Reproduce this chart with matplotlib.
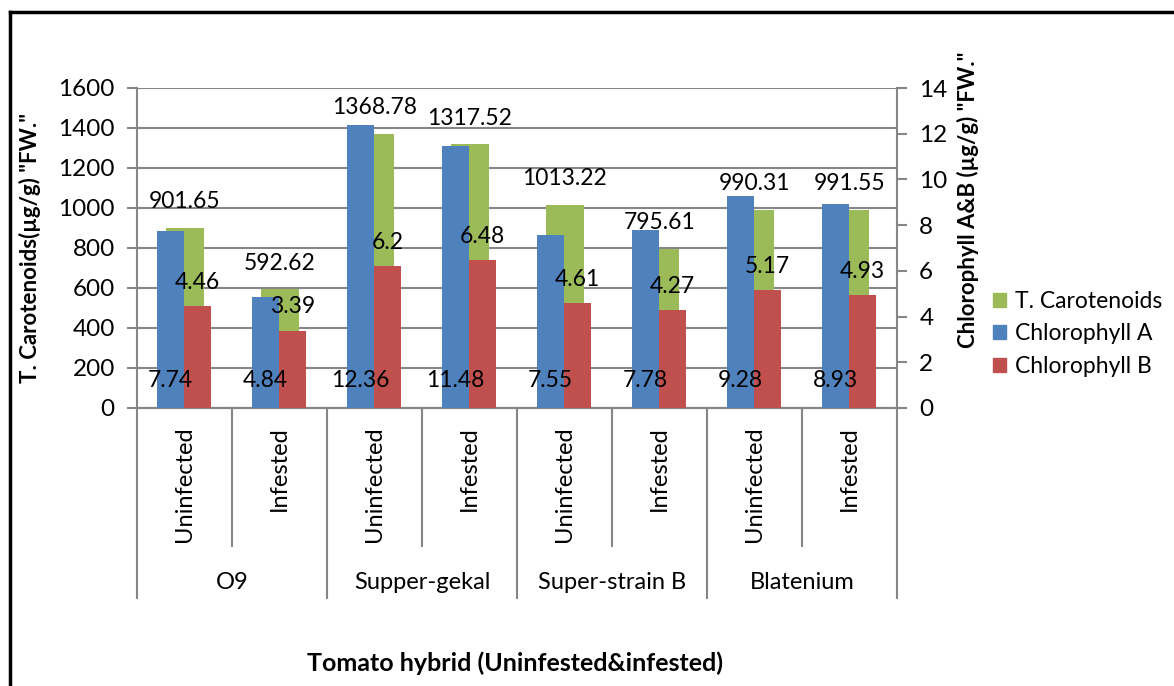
import numpy as np
import matplotlib
matplotlib.use("Agg")
import matplotlib.pyplot as plt
from matplotlib.patches import Patch
from matplotlib.lines import Line2D

plt.rcParams['font.family'] = ['Lato', 'DejaVu Sans']

# data
hybrids = ["O9", "Supper-gekal", "Super-strain B", "Blatenium"]
status = ["Uninfected", "Infested"]
carotenoids = [901.65, 592.62, 1368.78, 1317.52, 1013.22, 795.61, 990.31, 991.55]
chl_a = [7.74, 4.84, 12.36, 11.48, 7.55, 7.78, 9.28, 8.93]
chl_b = [4.46, 3.39, 6.2, 6.48, 4.61, 4.27, 5.17, 4.93]

green = "#9BBB59"
blue = "#4F81BD"
red = "#C0504D"
grey = "#868686"

fig = plt.figure(figsize=(11.74, 6.86), dpi=100)
ax = fig.add_axes([137 / 1174, 278 / 686, 760 / 1174, 320 / 686])
ax2 = ax.twinx()

x = np.arange(len(carotenoids))

# primary axis: carotenoids
ax.bar(x, carotenoids, width=0.4, color=green, zorder=2)
ax.set_ylim(0, 1600)
ax.set_yticks(np.arange(0, 1601, 200))
ax.set_xlim(-0.5, len(x) - 0.5)
ax.yaxis.grid(True, color=grey, linewidth=1.5, zorder=0)
ax.set_axisbelow(True)

# secondary axis: chlorophyll
ax2.bar(x - 0.145, chl_a, width=0.28, color=blue, zorder=3)
ax2.bar(x + 0.135, chl_b, width=0.28, color=red, zorder=3)
ax2.set_ylim(0, 14)
ax2.set_yticks(np.arange(0, 15, 2))

for a in (ax, ax2):
    a.spines["top"].set_visible(False)
    for s in ("left", "right", "bottom"):
        a.spines[s].set_color(grey)
        a.spines[s].set_linewidth(1.5)
    a.set_xticks([])
ax.spines["right"].set_visible(False)
ax2.spines["left"].set_visible(False)

ax.tick_params(axis="y", labelsize=17.5, length=7, width=1.5, color=grey, pad=9)
ax2.tick_params(axis="y", labelsize=17.5, length=7, width=1.5, color=grey, pad=9)

# value labels
for xi, v in zip(x, carotenoids):
    ax.annotate(f"{v:g}", (xi, v), xytext=(0, 19), textcoords="offset points",
                ha="center", va="center", fontsize=16.5, zorder=5)
for xi, v in zip(x, chl_a):
    ax2.annotate(f"{v:g}", (xi - 0.145, 0), xytext=(0, 20), textcoords="offset points",
                 ha="center", va="center", fontsize=16.5, zorder=5)
for xi, v in zip(x, chl_b):
    ax2.annotate(f"{v:g}", (xi + 0.135, v), xytext=(0, 17), textcoords="offset points",
                 ha="center", va="center", fontsize=16.5, zorder=5)

# two-level category axis
trans = ax.get_xaxis_transform()
for i in range(len(x) + 1):
    edge = i - 0.5
    low = -0.594 if i % 2 == 0 else -0.431
    ax.add_line(Line2D([edge, edge], [0, low], transform=trans, color=grey,
                       linewidth=1.5, clip_on=False))
for i, xi in enumerate(x):
    ax.text(xi, -0.058, status[i % 2], transform=trans, rotation=90,
            ha="center", va="top", fontsize=17)
for g, name in enumerate(hybrids):
    ax.text(2 * g + 0.5, -0.544, name, transform=trans, ha="center", va="center",
            fontsize=17)

# axis titles
fig.text(30 / 1174, 0.6385, 'T. Carotenoids(µg/g) "FW."', rotation=90,
         ha="center", va="center", fontsize=16, fontweight="bold")
fig.text(968 / 1174, 0.708, 'Chlorophyll A&B (µg/g) "FW."', rotation=90,
         ha="center", va="center", fontsize=16, fontweight="bold")
fig.text(515 / 1174, 23 / 686, "Tomato hybrid (Uninfested&infested)",
         ha="center", va="center", fontsize=18, fontweight="bold")

# legend
handles = [Patch(color=green), Patch(color=blue), Patch(color=red)]
fig.legend(handles, ["T. Carotenoids", "Chlorophyll A", "Chlorophyll B"],
           loc="upper left", bbox_to_anchor=(993 / 1174, 1 - 291 / 686),
           frameon=False, fontsize=16.5, handlelength=0.55, handleheight=0.55,
           handletextpad=0.4, labelspacing=0.5, borderaxespad=0, borderpad=0)

# outer frame
fig.add_artist(Line2D([10 / 1174, 10 / 1174], [0, 1 - 12 / 686],
                      transform=fig.transFigure, color="black", linewidth=2.5))
fig.add_artist(Line2D([10 / 1174, 1], [1 - 12 / 686, 1 - 12 / 686],
                      transform=fig.transFigure, color="black", linewidth=2.5))

fig.savefig("out.png", dpi=100)
